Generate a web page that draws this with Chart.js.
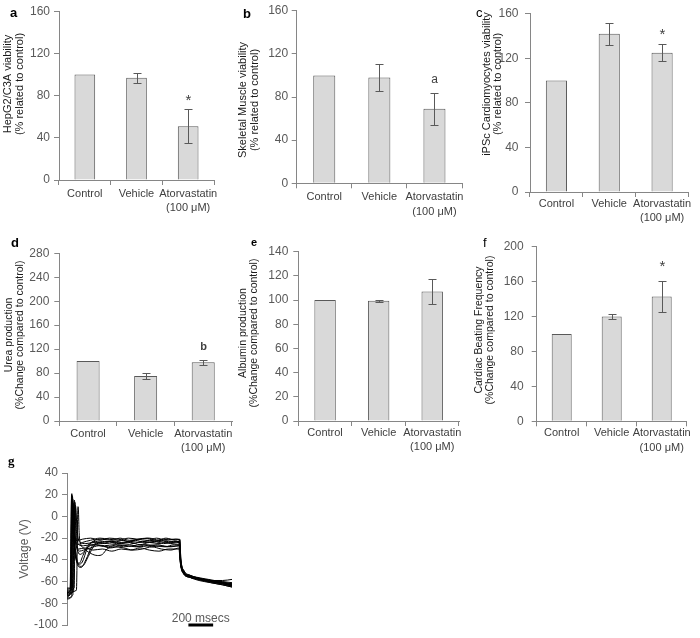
<!DOCTYPE html>
<html>
<head>
<meta charset="utf-8">
<title>Atorvastatin panels</title>
<script src="https://cdn.jsdelivr.net/npm/chart.js@4.4.0/dist/chart.umd.min.js"></script>
<style>
    body { margin: 0; background: #fff; }
    #fig { position: relative; width: 700px; height: 638px; overflow: hidden; font-family: 'Liberation Sans', Arial, sans-serif; }
    #fig canvas { position: absolute; display: block; }
    .tag { position: absolute; font-size: 13px; line-height: 13px; color: #000; }
</style>
</head>
<body>
<div id="fig">
    <canvas id="chartA" width="240" height="232" style="left:0;top:0"></canvas>
    <canvas id="chartB" width="240" height="232" style="left:230px;top:0"></canvas>
    <canvas id="chartC" width="240" height="232" style="left:460px;top:0"></canvas>
    <canvas id="chartD" width="240" height="240" style="left:0;top:220px"></canvas>
    <canvas id="chartE" width="240" height="240" style="left:230px;top:220px"></canvas>
    <canvas id="chartF" width="240" height="240" style="left:460px;top:220px"></canvas>
    <canvas id="chartG" width="260" height="198" style="left:0;top:440px"></canvas>

    <div class="tag" style="left:10px;top:6px;font-weight:bold">a</div>
    <div class="tag" style="left:243px;top:7px;font-weight:bold">b</div>
    <div class="tag" style="left:476px;top:6px">c</div>
    <div class="tag" style="left:11px;top:236px;font-weight:bold">d</div>
    <div class="tag" style="left:251px;top:236px;font-weight:bold;font-size:11px">e</div>
    <div class="tag" style="left:483px;top:236px">f</div>
    <div class="tag" style="left:8px;top:454px;font-weight:bold;font-family:'Liberation Serif',serif">g</div>
</div>

<script>
// ---- data ----
const categories = ['Control', 'Vehicle', ['Atorvastatin', '(100 μM)']];

const hepg2Viability = [100, 97, 51];
const hepg2Error = [0, 4.6, 16];
const hepg2Marks = ['', '', '*'];

const muscleViability = [100, 98, 69];
const muscleError = [0, 12.3, 15];
const muscleMarks = ['', '', 'a'];

const cardioViability = [100, 142, 125];
const cardioError = [0, 10, 7.5];
const cardioMarks = ['', '', '*'];

const ureaProduction = [100, 75, 98];
const ureaError = [0, 5, 4];
const ureaMarks = ['', '', 'b'];

const albuminProduction = [100, 99.5, 107];
const albuminError = [0, 0.8, 10.3];

const beatingFrequency = [100, 120, 143];
const beatingError = [0, 3, 18];
const beatingMarks = ['', '', '*'];

const viabilityTicks = [0, 40, 80, 120, 160];
const ureaTicks = [0, 40, 80, 120, 160, 200, 240, 280];
const albuminTicks = [0, 20, 40, 60, 80, 100, 120, 140];
const beatingTicks = [0, 40, 80, 120, 160, 200];
const voltageTicks = [-100, -80, -60, -40, -20, 0, 20, 40];

// voltage traces, [ms, mV]
const trace1 = [[0,-74],[25,-72],[38,15],[41,21],[50,-5],[60,-25],[75,-38],[100,-44],[130,-42],[170,-30],[220,-23],[300,-21],[380,-22],[450,-20],[530,-22],[610,-21],[700,-20],[780,-22],[860,-21],[950,-21],[960,-36],[985,-50],[1030,-54],[1100,-56],[1200,-58],[1300,-60],[1400,-62]];
const trace2 = [[0,-70],[30,-68],[42,18],[46,16],[55,-15],[70,-30],[90,-45],[120,-47],[160,-40],[210,-28],[260,-24],[340,-23],[420,-25],[500,-24],[580,-22],[660,-24],[740,-23],[820,-25],[900,-24],[955,-23],[962,-38],[990,-51],[1040,-55],[1120,-58],[1220,-60],[1320,-62],[1400,-64]];
const trace3 = [[0,-66],[35,-66],[46,14],[50,12],[58,-10],[70,-22],[85,-30],[110,-35],[140,-33],[180,-28],[250,-26],[320,-27],[400,-26],[480,-28],[560,-27],[640,-26],[720,-28],[800,-27],[880,-28],[955,-27],[962,-40],[990,-52],[1040,-56],[1120,-59],[1220,-61],[1320,-63],[1400,-65]];
const trace4 = [[0,-76],[40,-74],[50,10],[55,8],[63,-12],[75,-24],[90,-26],[130,-24],[200,-22],[280,-20],[360,-21],[440,-22],[520,-20],[600,-21],[680,-22],[760,-20],[840,-22],[920,-21],[958,-22],[965,-38],[992,-50],[1040,-54],[1120,-57],[1220,-59],[1320,-61],[1400,-63]];
const trace5 = [[0,-72],[45,-70],[55,12],[60,9],[68,-15],[80,-28],[100,-30],[150,-29],[220,-31],[300,-30],[380,-32],[460,-30],[540,-31],[620,-29],[700,-31],[780,-32],[860,-30],[950,-30],[960,-42],[990,-53],[1040,-56],[1120,-58],[1220,-60],[1320,-61],[1400,-62]];
const trace6 = [[0,-68],[60,-66],[72,10],[76,7],[84,-10],[95,-20],[110,-24],[160,-25],[230,-24],[300,-25],[380,-23],[460,-25],[540,-24],[620,-26],[700,-24],[780,-25],[860,-23],[950,-24],[960,-40],[990,-52],[1040,-55],[1120,-57],[1220,-59],[1320,-60],[1400,-61]];
const trace7 = [[0,-70],[80,-68],[93,9],[97,6],[103,-15],[115,-25],[140,-29],[200,-34],[260,-36],[300,-35],[340,-30],[400,-28],[480,-29],[560,-31],[640,-30],[720,-28],[800,-30],[880,-31],[955,-29],[962,-42],[990,-53],[1040,-56],[1120,-58],[1220,-59],[1320,-59],[1400,-58]];
const trace8 = [[0,-73],[33,-71],[44,19],[48,17],[57,-8],[68,-27],[85,-40],[110,-46],[140,-45],[180,-37],[230,-27],[300,-24],[380,-23],[460,-24],[540,-23],[620,-24],[700,-22],[780,-23],[860,-24],[950,-23],[960,-38],[990,-51],[1040,-55],[1120,-58],[1220,-61],[1320,-63],[1400,-65]];
const trace9 = [[0,-75],[50,-72],[62,15],[66,12],[75,-14],[88,-28],[105,-32],[140,-31],[200,-29],[270,-27],[350,-28],[430,-26],[510,-27],[590,-28],[670,-26],[750,-27],[830,-28],[910,-26],[955,-26],[962,-40],[990,-52],[1040,-56],[1120,-58],[1220,-60],[1320,-62],[1400,-63]];
const trace10 = [[0,-69],[38,-68],[48,16],[52,13],[60,-12],[72,-20],[90,-22],[130,-21],[200,-20],[280,-22],[360,-20],[440,-21],[520,-23],[600,-21],[680,-20],[760,-22],[840,-20],[920,-22],[958,-21],[965,-37],[992,-50],[1040,-54],[1120,-57],[1220,-60],[1320,-62],[1400,-64]];
const trace11 = [[0,-71],[56,-69],[66,13],[70,11],[78,-10],[88,-22],[100,-26],[140,-27],[210,-26],[290,-27],[370,-29],[450,-27],[530,-26],[610,-28],[690,-27],[770,-26],[850,-28],[930,-27],[956,-27],[963,-41],[990,-52],[1040,-55],[1120,-58],[1220,-60],[1320,-62],[1400,-64]];
const trace12 = [[0,-67],[28,-66],[39,20],[43,18],[52,-10],[64,-30],[80,-41],[105,-43],[135,-36],[175,-27],[240,-23],[320,-25],[400,-24],[480,-22],[560,-25],[640,-23],[720,-24],[800,-22],[880,-25],[955,-24],[962,-39],[990,-51],[1040,-55],[1120,-57],[1220,-59],[1320,-61],[1400,-63]];
const voltageTraces = [trace1, trace2, trace3, trace4, trace5, trace6, trace7, trace8, trace9, trace10, trace11, trace12];

const scaleBarMs = [1030, 1240];
const scaleBarLabel = '200 msecs';

// ---- styling ----
const AXIS_GRAY = '#868686';
const TICK_GRAY = '#595959';
Chart.defaults.font.family = "'Liberation Sans', Arial, sans-serif";

// rotated y-axis title drawn at fixed spots
function yTitlePlugin(t) {
    return {
        id: 'yTitle',
        afterDraw(chart) {
            const ctx = chart.ctx;
            ctx.save();
            ctx.fillStyle = t.color || '#1a1a1a';
            ctx.font = t.font;
            ctx.textAlign = 'center';
            ctx.textBaseline = 'middle';
            t.lines.forEach((line, i) => {
                ctx.save();
                ctx.translate(t.xs[i], t.y);
                ctx.rotate(-Math.PI / 2);
                ctx.fillText(line, 0, 0);
                ctx.restore();
            });
            ctx.restore();
        }
    };
}

// error bars + significance marks
function errorBarPlugin(o) {
    return {
        id: 'errorBars',
        afterDatasetsDraw(chart) {
            const ctx = chart.ctx;
            const y = chart.scales.y;
            const meta = chart.getDatasetMeta(0);
            ctx.save();
            ctx.strokeStyle = TICK_GRAY;
            ctx.lineWidth = 1;
            o.values.forEach((v, i) => {
                const err = o.errors[i];
                const cx = Math.round(meta.data[i].x) + 0.5;
                let topPx = y.getPixelForValue(v);
                if (err > 0) {
                    topPx = Math.round(y.getPixelForValue(v + err)) + 0.5;
                    const botPx = Math.round(y.getPixelForValue(v - err)) + 0.5;
                    ctx.beginPath();
                    ctx.moveTo(cx, topPx); ctx.lineTo(cx, botPx);
                    ctx.moveTo(cx - 4, topPx); ctx.lineTo(cx + 4, topPx);
                    ctx.moveTo(cx - 4, botPx); ctx.lineTo(cx + 4, botPx);
                    ctx.stroke();
                }
                const mark = o.marks ? o.marks[i] : '';
                if (mark) {
                    ctx.fillStyle = '#404040';
                    ctx.font = o.markFont;
                    ctx.textAlign = 'center';
                    ctx.textBaseline = 'middle';
                    ctx.fillText(mark, cx, topPx - o.markGap);
                }
            });
            ctx.restore();
        }
    };
}

function barChart(id, o) {
    const el = document.getElementById(id);
    const ticks = o.ticks;
    return new Chart(el, {
        type: 'bar',
        data: {
            labels: categories,
            datasets: [{
                data: o.values,
                backgroundColor: '#d9d9d9',
                borderColor: '#595959',
                borderWidth: 1,
                barPercentage: 0.4,
                categoryPercentage: 1
            }]
        },
        options: {
            responsive: false,
            animation: false,
            events: [],
            layout: {
                padding: { left: 0, top: o.area.top, right: el.width - o.area.right, bottom: 0 }
            },
            plugins: {
                legend: { display: false },
                tooltip: { enabled: false }
            },
            scales: {
                x: {
                    grid: { drawOnChartArea: false, tickLength: 5, color: AXIS_GRAY },
                    border: { color: AXIS_GRAY },
                    ticks: {
                        color: '#404040',
                        font: { size: 11, lineHeight: 1.3 },
                        padding: o.labelPad,
                        maxRotation: 0,
                        autoSkip: false
                    },
                    afterFit: function(scale) { scale.height = el.height - o.area.bottom; }
                },
                y: {
                    min: ticks[0],
                    max: ticks[ticks.length - 1],
                    grid: { drawOnChartArea: false, tickLength: 5, color: AXIS_GRAY },
                    border: { color: AXIS_GRAY },
                    ticks: {
                        stepSize: ticks[1] - ticks[0],
                        color: TICK_GRAY,
                        font: { size: 12 },
                        padding: o.tickPad
                    },
                    afterFit: function(scale) { scale.width = o.area.left; }
                }
            }
        },
        plugins: [errorBarPlugin(o), yTitlePlugin(o.title)]
    });
}

barChart('chartA', {
    values: hepg2Viability, errors: hepg2Error, marks: hepg2Marks,
    markFont: '15px "Liberation Sans", Arial, sans-serif', markGap: 8.5,
    ticks: viabilityTicks, tickPad: 4, labelPad: 2,
    area: { left: 59, top: 8.3, right: 214, bottom: 180 },
    title: { lines: ['HepG2/C3A viability', '(% related to control)'], xs: [8, 19.5], y: 84, font: '11px "Liberation Sans", Arial, sans-serif' }
});

barChart('chartB', {
    values: muscleViability, errors: muscleError, marks: muscleMarks,
    markFont: '12px "Liberation Sans", Arial, sans-serif', markGap: 13.5,
    ticks: viabilityTicks, tickPad: 3.5, labelPad: 2,
    area: { left: 66.7, top: 8.3, right: 232, bottom: 183.3 },
    title: { lines: ['Skeletal Muscle viability', '(% related to control)'], xs: [13, 24.5], y: 100, font: '11px "Liberation Sans", Arial, sans-serif' }
});

barChart('chartC', {
    values: cardioViability, errors: cardioError, marks: cardioMarks,
    markFont: '15px "Liberation Sans", Arial, sans-serif', markGap: 10,
    ticks: viabilityTicks, tickPad: 6.5, labelPad: 0,
    area: { left: 70, top: 12.3, right: 228.5, bottom: 192 },
    title: { lines: ['iPSc Cardiomyocytes viability', '(% related to control)'], xs: [26.5, 38], y: 84, font: '11px "Liberation Sans", Arial, sans-serif' }
});

barChart('chartD', {
    values: ureaProduction, errors: ureaError, marks: ureaMarks,
    markFont: 'bold 11px "Liberation Sans", Arial, sans-serif', markGap: 13.5,
    ticks: ureaTicks, tickPad: 5, labelPad: 1,
    area: { left: 59.3, top: 33.3, right: 232, bottom: 201 },
    title: { lines: ['Urea production', '(%Change compared to control)'], xs: [9.5, 20.5], y: 115, font: '10.5px "Liberation Sans", Arial, sans-serif' }
});

barChart('chartE', {
    values: albuminProduction, errors: albuminError, marks: null,
    markFont: '12px sans-serif', markGap: 12,
    ticks: albuminTicks, tickPad: 5, labelPad: 0,
    area: { left: 68.3, top: 31.7, right: 229, bottom: 201 },
    title: { lines: ['Albumin production', '(%Change compared to control)'], xs: [13, 24], y: 113, font: '10.5px "Liberation Sans", Arial, sans-serif' }
});

barChart('chartF', {
    values: beatingFrequency, errors: beatingError, marks: beatingMarks,
    markFont: '15px "Liberation Sans", Arial, sans-serif', markGap: 14.5,
    ticks: beatingTicks, tickPad: 8, labelPad: 0,
    area: { left: 76.7, top: 26.7, right: 226.7, bottom: 201.3 },
    title: { lines: ['Cardiac Beating Frequency', '(%Change compared to control)'], xs: [19.5, 30.5], y: 110, font: '10.5px "Liberation Sans", Arial, sans-serif' }
});

// ---- panel g: voltage traces ----
(function() {
    const el = document.getElementById('chartG');
    const scaleBarText = {
        id: 'scaleBarText',
        afterDatasetsDraw(chart) {
            const {ctx, scales: {x, y}} = chart;
            const midX = x.getPixelForValue((scaleBarMs[0] + scaleBarMs[1]) / 2);
            const barY = y.getPixelForValue(voltageTicks[0]);
            ctx.save();
            ctx.fillStyle = TICK_GRAY;
            ctx.font = '12px "Liberation Sans", Arial, sans-serif';
            ctx.textAlign = 'center';
            ctx.textBaseline = 'alphabetic';
            ctx.fillText(scaleBarLabel, midX, barY - 3);
            ctx.restore();
        }
    };

    const datasets = voltageTraces.map(tr => ({
        data: tr.map(p => ({ x: p[0], y: p[1] })),
        borderColor: '#000',
        borderWidth: 1,
        pointRadius: 0,
        cubicInterpolationMode: 'monotone',
        fill: false
    }));
    datasets.push({
        data: scaleBarMs.map(ms => ({ x: ms, y: voltageTicks[0] })),
        borderColor: '#000',
        borderWidth: 3,
        pointRadius: 0,
        clip: false
    });

    new Chart(el, {
        type: 'line',
        data: { datasets: datasets },
        options: {
            responsive: false,
            animation: false,
            events: [],
            layout: { padding: { left: 0, top: 33, right: 28, bottom: 13 } },
            plugins: { legend: { display: false }, tooltip: { enabled: false } },
            scales: {
                x: { type: 'linear', min: 0, max: 1400, display: false },
                y: {
                    min: voltageTicks[0],
                    max: voltageTicks[voltageTicks.length - 1],
                    grid: { drawOnChartArea: false, tickLength: 5, color: AXIS_GRAY },
                    border: { color: AXIS_GRAY },
                    ticks: { stepSize: 20, color: TICK_GRAY, font: { size: 12 }, padding: 4 },
                    afterFit: function(scale) { scale.width = 67; }
                }
            }
        },
        plugins: [scaleBarText, yTitlePlugin({ lines: ['Voltage (V)'], xs: [25], y: 109, font: '12px "Liberation Sans", Arial, sans-serif', color: TICK_GRAY })]
    });
})();
</script>
</body>
</html>
